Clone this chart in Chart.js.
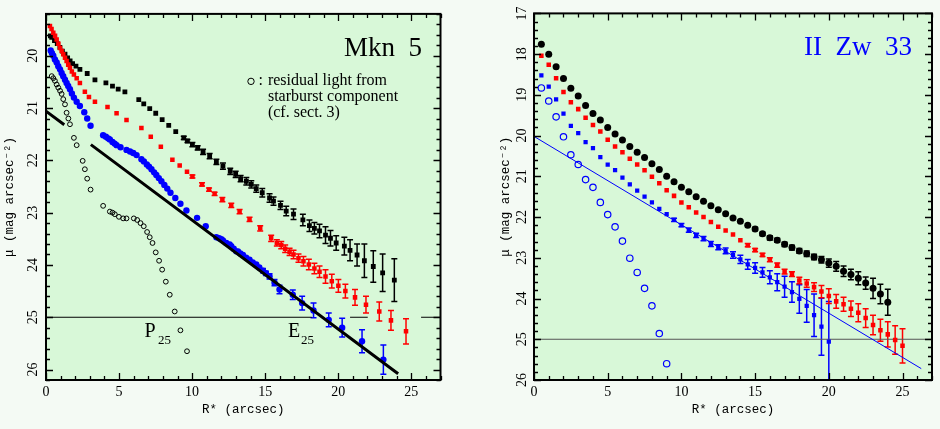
<!DOCTYPE html>
<html><head><meta charset="utf-8">
<script src="https://cdn.jsdelivr.net/npm/chart.js@4.4.0/dist/chart.umd.min.js"></script>
<style>
html,body{margin:0;padding:0;background:#f4faf4;}
#wrap{position:relative;width:940px;height:429px;overflow:hidden;}
canvas{position:absolute;top:0;}
</style></head><body>
<div id="wrap">
<canvas id="left" width="470" height="429" style="left:0"></canvas>
<canvas id="right" width="470" height="429" style="left:470px"></canvas>
</div>
<script>
// ---------------- Mkn 5 (left panel) ----------------
const mknTotalX = [0.30,0.39,0.58,0.77,0.95,1.12,1.30,1.48,1.65,1.82,2.05,2.32,2.82,3.35,4.10,4.55,4.94,5.40,6.35,6.69,7.10,7.51,7.95,8.40,8.88,9.43,9.68,10.02,10.38,10.75,11.20,11.66,12.11,12.61,12.98,13.32,13.71,14.05,14.39,14.80,15.30,15.57,16.05,16.44,16.94,17.58,18.03,18.37,18.72,19.13,19.47,19.86,20.42,20.81,21.29,21.79,22.40,23.04,23.84];
const mknTotalY = [19.62,19.65,19.71,19.77,19.84,19.91,19.97,20.04,20.10,20.15,20.20,20.26,20.34,20.46,20.52,20.58,20.64,20.69,20.84,20.92,21.01,21.10,21.22,21.33,21.45,21.57,21.63,21.70,21.76,21.84,21.92,22.03,22.11,22.21,22.27,22.35,22.40,22.46,22.54,22.62,22.72,22.78,22.86,22.97,23.03,23.14,23.25,23.30,23.35,23.43,23.49,23.58,23.64,23.72,23.81,23.92,24.03,24.15,24.29];
const mknTotalE = [0.01,0.01,0.01,0.01,0.01,0.01,0.01,0.01,0.01,0.01,0.01,0.01,0.01,0.01,0.01,0.01,0.01,0.01,0.02,0.02,0.02,0.02,0.02,0.02,0.02,0.03,0.03,0.04,0.04,0.05,0.05,0.05,0.06,0.06,0.06,0.06,0.07,0.07,0.07,0.08,0.08,0.08,0.08,0.09,0.10,0.11,0.11,0.11,0.13,0.16,0.15,0.14,0.17,0.20,0.21,0.32,0.30,0.36,0.41];

const mknMidX = [0.27,0.38,0.50,0.62,0.73,0.85,0.96,1.07,1.18,1.30,1.41,1.52,1.64,1.77,1.91,2.10,2.32,2.66,2.94,3.35,4.21,4.83,5.51,6.53,7.17,7.86,8.65,9.15,9.65,10.02,10.68,11.16,11.54,12.07,12.68,13.25,13.93,14.66,15.41,15.80,16.10,16.37,16.67,16.94,17.28,17.62,17.99,18.37,18.72,19.13,19.56,20.01,20.49,21.15,21.90,22.81,23.61,24.64];
const mknMidY = [19.43,19.49,19.56,19.62,19.69,19.77,19.85,19.91,19.97,20.04,20.10,20.17,20.23,20.30,20.36,20.43,20.52,20.69,20.79,20.88,20.98,21.10,21.23,21.38,21.55,21.74,21.99,22.10,22.22,22.31,22.46,22.56,22.64,22.75,22.86,22.98,23.13,23.30,23.49,23.58,23.62,23.69,23.75,23.80,23.87,23.93,23.99,24.07,24.13,24.22,24.31,24.40,24.50,24.62,24.76,24.89,25.06,25.27];
const mknMidE = [0.01,0.01,0.01,0.01,0.01,0.01,0.01,0.01,0.01,0.01,0.01,0.01,0.01,0.01,0.01,0.01,0.01,0.01,0.01,0.01,0.02,0.02,0.02,0.02,0.02,0.02,0.02,0.02,0.02,0.03,0.03,0.03,0.03,0.04,0.04,0.04,0.04,0.05,0.06,0.06,0.07,0.07,0.07,0.08,0.08,0.09,0.10,0.10,0.11,0.13,0.13,0.12,0.13,0.15,0.16,0.18,0.19,0.24];

const mknBlueX = [0.32,0.41,0.50,0.61,0.73,0.84,0.96,1.07,1.18,1.30,1.41,1.52,1.64,1.77,1.91,2.10,2.32,2.62,2.82,3.05,3.91,4.10,4.25,4.37,4.55,4.70,4.83,5.10,5.51,5.75,5.97,6.20,6.53,6.70,6.90,7.05,7.22,7.40,7.55,7.72,7.90,8.10,8.30,8.52,8.85,9.20,9.61,10.34,10.93,11.66,11.85,12.00,12.11,12.34,12.57,12.68,12.85,13.02,13.14,13.30,13.48,13.70,13.93,14.15,14.39,14.60,14.85,15.05,15.30,15.64,15.98,16.89,17.53,18.31,19.35,20.27,21.63,23.09];
const mknBlueY = [19.90,19.95,20.00,20.07,20.13,20.20,20.26,20.33,20.39,20.46,20.52,20.58,20.64,20.72,20.80,20.88,20.96,21.08,21.20,21.34,21.52,21.55,21.58,21.60,21.65,21.68,21.71,21.75,21.80,21.83,21.86,21.90,21.98,22.02,22.08,22.12,22.17,22.23,22.28,22.34,22.40,22.47,22.54,22.62,22.72,22.83,22.96,23.10,23.26,23.47,23.49,23.51,23.53,23.58,23.61,23.64,23.69,23.74,23.74,23.78,23.81,23.86,23.90,23.95,23.99,24.05,24.11,24.16,24.22,24.34,24.47,24.57,24.73,24.87,25.05,25.20,25.46,25.81];
const mknBlueE = [0.01,0.01,0.01,0.01,0.01,0.01,0.01,0.01,0.01,0.01,0.01,0.01,0.01,0.01,0.01,0.01,0.01,0.01,0.01,0.01,0.01,0.01,0.01,0.01,0.01,0.01,0.01,0.01,0.01,0.01,0.01,0.01,0.01,0.01,0.01,0.01,0.01,0.01,0.01,0.01,0.01,0.01,0.01,0.01,0.01,0.01,0.01,0.01,0.01,0.01,0.01,0.01,0.01,0.01,0.01,0.01,0.01,0.01,0.01,0.01,0.01,0.01,0.01,0.01,0.01,0.01,0.04,0.04,0.05,0.06,0.08,0.09,0.13,0.14,0.13,0.18,0.22,0.28];

const mknResidX = [0.39,0.50,0.61,0.73,0.84,0.96,1.07,1.18,1.30,1.41,1.53,1.64,1.91,2.10,2.51,2.66,2.82,3.05,3.91,4.37,4.55,4.71,4.99,5.28,5.51,6.01,6.24,6.47,6.69,6.92,7.10,7.29,7.51,7.74,7.95,8.20,8.47,8.81,9.20,9.65];
const mknResidY = [20.39,20.43,20.48,20.55,20.61,20.67,20.73,20.83,20.93,21.09,21.20,21.31,21.57,21.71,22.01,22.17,22.35,22.56,22.87,22.98,23.00,23.03,23.08,23.11,23.11,23.11,23.14,23.20,23.26,23.37,23.47,23.58,23.76,23.92,24.09,24.32,24.57,24.89,25.25,25.65];

const mknFitX = [0, 1.25, 2.0, 3.07, 24.1];
const mknFitY = [21.06, 21.32, null, 21.70, 26.08];
const mknLevelX = [0, 18.19, 19.5, 20.81, 22.02, 23.8, 25.67, 27];
const mknLevelY = [25, 25, null, 25, 25, null, 25, 25];

const mknXTicks = [0, 5, 10, 15, 20, 25];
const mknYTicks = [20, 21, 22, 23, 24, 25, 26];

// ---------------- II Zw 33 (right panel) ----------------
const zwTotalX = [0.5,1.0,1.5,2.0,2.5,3.0,3.5,4.0,4.5,5.0,5.5,6.0,6.5,7.0,7.5,8.0,8.5,9.0,9.5,10.0,10.5,11.0,11.5,12.0,12.5,13.0,13.5,14.0,14.5,15.0,15.5,16.0,16.5,17.0,17.5,18.0,18.5,19.0,19.5,20.0,20.5,21.0,21.5,22.0,22.5,23.0,23.5,24.0];
const zwTotalY = [17.76,18.00,18.31,18.60,18.84,19.03,19.26,19.46,19.62,19.80,19.96,20.11,20.27,20.41,20.54,20.69,20.83,21.00,21.13,21.27,21.38,21.50,21.61,21.72,21.82,21.92,22.02,22.10,22.20,22.29,22.41,22.51,22.57,22.67,22.75,22.83,22.90,22.98,23.05,23.13,23.21,23.33,23.41,23.50,23.62,23.75,23.89,24.09];
const zwTotalE = [0.02,0.02,0.02,0.02,0.02,0.02,0.02,0.02,0.02,0.02,0.02,0.02,0.02,0.02,0.02,0.02,0.02,0.02,0.02,0.02,0.02,0.02,0.02,0.02,0.02,0.02,0.02,0.02,0.03,0.04,0.04,0.05,0.05,0.05,0.06,0.06,0.07,0.07,0.08,0.10,0.12,0.13,0.13,0.16,0.15,0.25,0.24,0.32];

const zwMidX = [0.5,1.0,1.5,2.0,2.5,3.0,3.5,4.0,4.5,5.0,5.5,6.0,6.5,7.0,7.5,8.0,8.5,9.0,9.5,10.0,10.5,11.0,11.5,12.0,12.5,13.0,13.5,14.0,14.5,15.0,15.5,16.0,16.5,17.0,17.5,18.0,18.5,19.0,19.5,20.0,20.5,21.0,21.5,22.0,22.5,23.0,23.5,24.0,24.5,25.0];
const zwMidY = [18.04,18.26,18.59,18.93,19.18,19.35,19.56,19.74,19.90,20.10,20.27,20.41,20.57,20.71,20.85,21.01,21.17,21.34,21.48,21.64,21.76,21.89,22.00,22.12,22.24,22.33,22.43,22.57,22.69,22.81,22.93,23.05,23.18,23.34,23.40,23.56,23.63,23.72,23.83,23.94,24.07,24.14,24.25,24.35,24.48,24.65,24.78,24.88,25.02,25.16];
const zwMidE = [0.02,0.02,0.02,0.02,0.02,0.02,0.02,0.02,0.02,0.02,0.02,0.02,0.02,0.02,0.02,0.02,0.02,0.02,0.02,0.02,0.02,0.02,0.02,0.02,0.03,0.03,0.03,0.03,0.04,0.04,0.04,0.05,0.05,0.06,0.06,0.08,0.09,0.11,0.15,0.18,0.17,0.17,0.19,0.22,0.23,0.24,0.27,0.31,0.35,0.42];

const zwBlueX = [0.5,1.0,1.5,2.0,2.5,3.0,3.5,4.0,4.5,5.0,5.5,6.0,6.5,7.0,7.5,8.0,8.5,9.0,9.5,10.0,10.5,11.0,11.5,12.0,12.5,13.0,13.5,14.0,14.5,15.0,15.5,16.0,16.5,17.0,17.5,18.0,18.5,19.0,19.5,20.0];
const zwBlueY = [18.52,18.80,19.11,19.46,19.76,19.94,20.16,20.31,20.53,20.71,20.85,21.03,21.20,21.35,21.50,21.64,21.80,21.93,22.07,22.20,22.32,22.45,22.53,22.66,22.74,22.83,22.93,23.04,23.16,23.25,23.36,23.48,23.60,23.71,23.84,24.01,24.18,24.41,24.69,25.06];
const zwBlueE = [0.02,0.02,0.02,0.02,0.02,0.02,0.02,0.02,0.02,0.02,0.02,0.02,0.02,0.02,0.02,0.02,0.02,0.02,0.04,0.04,0.05,0.05,0.05,0.06,0.06,0.07,0.08,0.10,0.12,0.13,0.12,0.16,0.21,0.26,0.25,0.35,0.40,0.52,0.70,0.99];

const zwResidX = [0.5,1.0,1.5,2.0,2.5,3.0,3.5,4.0,4.5,5.0,5.5,6.0,6.5,7.0,7.5,8.0,8.5,9.0];
const zwResidY = [18.83,19.15,19.54,20.03,20.47,20.71,21.08,21.27,21.64,21.94,22.24,22.59,23.01,23.36,23.75,24.18,24.86,25.60];

const zwFitX = [0, 26.27];
const zwFitY = [20.02, 25.72];
const zwLevelX = [0, 27];
const zwLevelY = [25, 25];

const zwXTicks = [0, 5, 10, 15, 20, 25];
const zwYTicks = [17, 18, 19, 20, 21, 22, 23, 24, 25, 26];

// annotations (data coordinates)
const mknNotes = [
  {t:'Mkn  5', x:25.74, y:20.0, size:27, align:'right'},
  {t:':', x:14.55, y:20.55, size:16},
  {t:'residual light from', x:15.19, y:20.55, size:16},
  {t:'starburst component', x:15.19, y:20.86, size:16},
  {t:'(cf. sect. 3)', x:15.19, y:21.17, size:16},
  {t:'P', x:6.74, y:25.37, size:20},
  {t:'25', x:7.67, y:25.52, size:13},
  {t:'E', x:16.56, y:25.37, size:20},
  {t:'25', x:17.45, y:25.52, size:13}
];
const mknNoteMarker = {x:14.03, y:20.49};
const zwNotes = [
  {t:'II  Zw  33', x:25.64, y:18.02, size:27, align:'right', color:'#0000ff'}
];

// ---------------- helpers ----------------
const PAGE_BG = '#f4faf4';
const PLOT_BG = '#d8f8d8';
const pts = (xs, ys) => xs.map((x, i) => ({x, y: ys[i]}));

const framePlugin = {
  id: 'frame',
  beforeDraw(chart) {
    const {ctx, chartArea: a} = chart;
    ctx.save();
    ctx.fillStyle = PAGE_BG; ctx.fillRect(0, 0, chart.width, chart.height);
    ctx.fillStyle = PLOT_BG; ctx.fillRect(a.left, a.top, a.right - a.left, a.bottom - a.top);
    ctx.restore();
  },
  beforeDatasetsDraw(chart) {
    const {ctx, chartArea: a, scales: {x: xs, y: ys}} = chart;
    ctx.save();
    ctx.beginPath(); ctx.rect(a.left, a.top, a.right - a.left, a.bottom - a.top); ctx.clip();
    chart.data.datasets.forEach(ds => {
      if (!ds.errors) return;
      ctx.strokeStyle = ds.backgroundColor;
      ctx.lineWidth = 1.5;
      ds.data.forEach((p, i) => {
        const e = ds.errors[i];
        if (!e) return;
        const px = xs.getPixelForValue(p.x);
        const y1 = ys.getPixelForValue(p.y - e), y2 = ys.getPixelForValue(p.y + e);
        if (Math.abs(y2 - y1) < 3) return;
        ctx.beginPath();
        ctx.moveTo(px, y1); ctx.lineTo(px, y2);
        ctx.moveTo(px - 3, y1); ctx.lineTo(px + 3, y1);
        ctx.moveTo(px - 3, y2); ctx.lineTo(px + 3, y2);
        ctx.stroke();
      });
    });
    ctx.restore();
  },
  afterDatasetsDraw(chart, args, opts) {
    const {ctx, chartArea: a, scales: {x: xs, y: ys}} = chart;
    ctx.save();
    ctx.strokeStyle = '#000';
    ctx.lineWidth = 1.3;
    const nx = Math.round((xs.max - xs.min) / opts.xMinor);
    for (let k = 0; k <= nx; k++) {
      const v = xs.min + k * opts.xMinor;
      const major = Math.abs(v / opts.xMajor - Math.round(v / opts.xMajor)) < 1e-6;
      const len = major ? 7 : 4;
      const px = Math.round(xs.getPixelForValue(v)) + 0.5;
      ctx.beginPath();
      ctx.moveTo(px, a.bottom); ctx.lineTo(px, a.bottom - len);
      ctx.moveTo(px, a.top); ctx.lineTo(px, a.top + len);
      ctx.stroke();
    }
    const start = Math.ceil(ys.min / opts.yMinor - 1e-6);
    const end = Math.floor(ys.max / opts.yMinor + 1e-6);
    for (let k = start; k <= end; k++) {
      const v = k * opts.yMinor;
      const major = Math.abs(v / opts.yMajor - Math.round(v / opts.yMajor)) < 1e-6;
      const len = major ? 7 : 4;
      const py = Math.round(ys.getPixelForValue(v)) + 0.5;
      ctx.beginPath();
      ctx.moveTo(a.left, py); ctx.lineTo(a.left + len, py);
      ctx.moveTo(a.right, py); ctx.lineTo(a.right - len, py);
      ctx.stroke();
    }
    ctx.lineWidth = 2;
    ctx.strokeRect(a.left, a.top, a.right - a.left, a.bottom - a.top);
    (opts.notes || []).forEach(n => {
      ctx.font = n.size + 'px "Liberation Serif", "Times New Roman", serif';
      ctx.fillStyle = n.color || '#000';
      ctx.textAlign = n.align || 'left';
      ctx.textBaseline = 'alphabetic';
      ctx.fillText(n.t, xs.getPixelForValue(n.x), ys.getPixelForValue(n.y));
    });
    if (opts.marker) {
      ctx.lineWidth = 1;
      ctx.beginPath();
      ctx.arc(xs.getPixelForValue(opts.marker.x), ys.getPixelForValue(opts.marker.y), 3.2, 0, Math.PI * 2);
      ctx.stroke();
    }
    ctx.restore();
  }
};

function makeOptions(c) {
  const tickFont = {family: '"Liberation Serif", "Times New Roman", serif', size: 14};
  const titleFont = {family: '"Liberation Mono", "DejaVu Sans Mono", monospace', size: 12.5};
  return {
    responsive: false, animation: false, devicePixelRatio: 1,
    layout: {padding: {left: 0, right: c.padRight, top: c.padTop, bottom: 0}},
    plugins: {
      legend: {display: false}, tooltip: {enabled: false},
      frame: {xMinor: 1, xMajor: 5, yMinor: 0.2, yMajor: 1, notes: c.notes, marker: c.marker}
    },
    scales: {
      x: {
        type: 'linear', min: 0, max: 27,
        grid: {display: false, drawTicks: false}, border: {display: false},
        afterFit(s) { s.height = 49; },
        afterBuildTicks(s) { s.ticks = c.xTicks.map(v => ({value: v})); },
        ticks: {font: tickFont, color: '#000', padding: 4, maxRotation: 0, minRotation: 0, autoSkip: false},
        title: {display: true, text: 'R* (arcsec)', font: titleFont, color: '#000', padding: {top: 0, bottom: 12}}
      },
      y: {
        type: 'linear', min: c.ymin, max: c.ymax, reverse: true,
        grid: {display: false, drawTicks: false}, border: {display: false},
        afterFit(s) { s.width = c.yWidth; },
        afterBuildTicks(s) { s.ticks = c.yTicks.map(v => ({value: v})); },
        ticks: {font: tickFont, color: '#000', padding: c.yTickPad, minRotation: 90, maxRotation: 90, crossAlign: 'center', autoSkip: false},
        title: {display: true, text: 'μ (mag arcsec⁻²)', font: titleFont, color: '#000', padding: {top: c.yTitlePad, bottom: 0}}
      }
    }
  };
}

new Chart(document.getElementById('left'), {
  type: 'scatter',
  data: {datasets: [
    {data: pts(mknFitX, mknFitY), showLine: true, borderColor: '#000', borderWidth: 3, pointRadius: 0, spanGaps: false, order: 0},
    {data: pts(mknBlueX, mknBlueY), errors: mknBlueE, pointStyle: 'circle', pointRadius: 3.2, backgroundColor: '#0000ff', borderWidth: 0, order: 1},
    {data: pts(mknMidX, mknMidY), errors: mknMidE, pointStyle: 'rect', pointRadius: 3.2, backgroundColor: '#ff0000', borderWidth: 0, order: 2},
    {data: pts(mknTotalX, mknTotalY), errors: mknTotalE, pointStyle: 'rect', pointRadius: 3.4, backgroundColor: '#000000', borderWidth: 0, order: 3},
    {data: pts(mknResidX, mknResidY), pointStyle: 'circle', pointRadius: 2.4, backgroundColor: 'rgba(0,0,0,0)', borderColor: '#000', borderWidth: 1, order: 4},
    {data: pts(mknLevelX, mknLevelY), showLine: true, borderColor: '#000', borderWidth: 1.2, pointRadius: 0, spanGaps: false, order: 5}
  ]},
  options: makeOptions({padRight: 29.5, padTop: 11, ymin: 19.2, ymax: 26.2, yWidth: 46, yTickPad: 5.5, yTitlePad: 2,
    xTicks: mknXTicks, yTicks: mknYTicks, notes: mknNotes, marker: mknNoteMarker}),
  plugins: [framePlugin]
});

new Chart(document.getElementById('right'), {
  type: 'scatter',
  data: {datasets: [
    {data: pts(zwBlueX, zwBlueY), errors: zwBlueE, pointStyle: 'rect', pointRadius: 3.0, backgroundColor: '#0000ff', borderWidth: 0, order: 1},
    {data: pts(zwMidX, zwMidY), errors: zwMidE, pointStyle: 'rect', pointRadius: 3.2, backgroundColor: '#ff0000', borderWidth: 0, order: 2},
    {data: pts(zwTotalX, zwTotalY), errors: zwTotalE, pointStyle: 'circle', pointRadius: 3.5, backgroundColor: '#000000', borderWidth: 0, order: 3},
    {data: pts(zwResidX, zwResidY), pointStyle: 'circle', pointRadius: 3.2, backgroundColor: 'rgba(0,0,0,0)', borderColor: '#0000ff', borderWidth: 1.2, order: 4},
    {data: pts(zwFitX, zwFitY), showLine: true, borderColor: '#0000ff', borderWidth: 1, pointRadius: 0, order: 5},
    {data: pts(zwLevelX, zwLevelY), showLine: true, borderColor: '#555555', borderWidth: 1.2, pointRadius: 0, order: 6}
  ]},
  options: makeOptions({padRight: 8, padTop: 8, ymin: 17, ymax: 26, yWidth: 64, yTickPad: 5, yTitlePad: 28,
    xTicks: zwXTicks, yTicks: zwYTicks, notes: zwNotes, marker: null}),
  plugins: [framePlugin]
});
</script>
</body></html>
